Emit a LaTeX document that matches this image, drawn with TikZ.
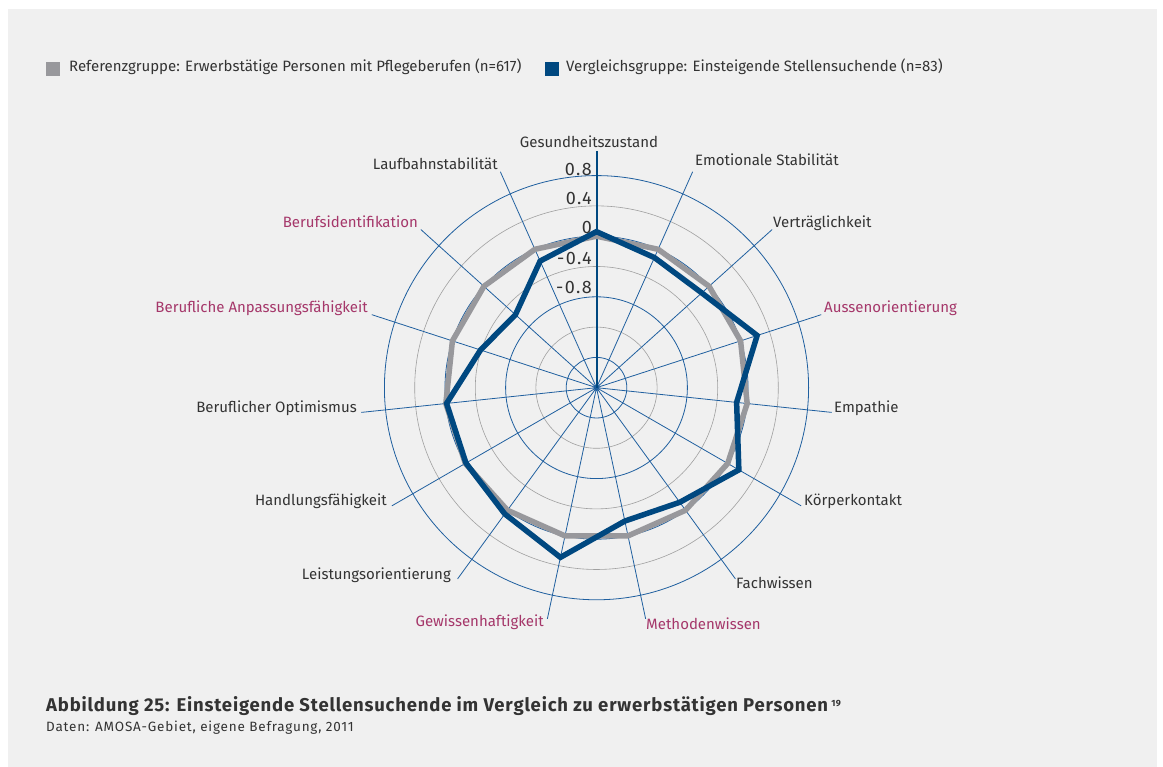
\documentclass[tikz,border=0pt]{standalone}
\usepackage{fontspec}
\setmainfont{Fira Sans}
\definecolor{bggray}{HTML}{F0F0F0}
\definecolor{gridblue}{HTML}{1F5F9F}
\definecolor{gridgray}{HTML}{A0A0A0}
\definecolor{refgray}{HTML}{98989C}
\definecolor{cmpblue}{HTML}{004880}
\definecolor{textdark}{HTML}{333333}
\definecolor{labpink}{HTML}{A5376A}

\begin{document}
\begin{tikzpicture}[x=1pt,y=1pt]
    \tikzstyle{ringblue}=[draw=gridblue,line width=0.8pt]
    \tikzstyle{ringgray}=[draw=gridgray,line width=0.6pt]
    \tikzstyle{axis}=[draw=gridblue,line width=0.8pt]
    \tikzstyle{lab}=[inner sep=0pt,font=\fontsize{15}{17}\selectfont,text=textdark]
    \tikzstyle{labpk}=[lab,text=labpink]
    \tikzstyle{scalelab}=[inner sep=0pt,anchor=base east,text=textdark,
                          font=\fontsize{18}{20}\selectfont\addfontfeature{LetterSpace=8}]
    \tikzstyle{refline}=[draw=refgray,line width=5.5pt]
    \tikzstyle{cmpline}=[draw=cmpblue,line width=5.5pt]
    \tikzstyle{key}=[minimum size=14pt,inner sep=0pt]

    \useasboundingbox (0,0) rectangle (1163,767);
    \fill[bggray] (8,0) rectangle (1157,758);

    % legend
    \node[key,fill=refgray] (kref) at (53,698) {};
    \node[lab,anchor=mid west] (tref) at (69,698) {Referenzgruppe: Erwerbstätige Personen mit Pflegeberufen (n=617)};
    \node[key,fill=cmpblue] (kcmp) at (551.5,698) {};
    \node[lab,anchor=mid west] (tcmp) at (566,698) {Vergleichsgruppe: Einsteigende Stellensuchende (n=83)};

    \begin{scope}[shift={(596.5,379.3)},x=75.75pt,y=75.75pt]
       \coordinate (c) at (0,0);

       % rings, 0.4 apart (radius = value + 2)
       \draw[ringblue] (c) circle (0.4);
       \draw[ringgray] (c) circle (0.8);
       \draw[ringblue] (c) circle (1.2);
       \draw[ringgray] (c) circle (1.6);
       \draw[ringblue] (c) circle (2.0);
       \draw[ringgray] (c) circle (2.4);
       \draw[ringblue] (c) circle (2.8);

       \coordinate (e0)  at (90:3.12);
       \coordinate (e1)  at (66:3.12);
       \coordinate (e2)  at (42:3.12);
       \coordinate (e3)  at (18:3.12);
       \coordinate (e4)  at (-6:3.12);
       \coordinate (e5)  at (-30:3.12);
       \coordinate (e6)  at (-54:3.12);
       \coordinate (e7)  at (-78:3.12);
       \coordinate (e8)  at (-102:3.12);
       \coordinate (e9)  at (-126:3.12);
       \coordinate (e10) at (-150:3.12);
       \coordinate (e11) at (-174:3.12);
       \coordinate (e12) at (162:3.12);
       \coordinate (e13) at (138:3.12);
       \coordinate (e14) at (114:3.12);

       \draw[axis] (c) -- (e1)  (c) -- (e2)  (c) -- (e3)  (c) -- (e4)
                   (c) -- (e5)  (c) -- (e6)  (c) -- (e7)  (c) -- (e8)
                   (c) -- (e9)  (c) -- (e10) (c) -- (e11) (c) -- (e12)
                   (c) -- (e13) (c) -- (e14);
       \draw[cmpblue,line width=2pt] (c) -- (e0);

       % Referenzgruppe
       \draw[refline] (90:2) -- (66:2) -- (42:2) -- (18:2) -- (-6:2)
             -- (-30:2) -- (-54:2) -- (-78:2) -- (-102:2) -- (-126:2)
             -- (-150:2) -- (-174:2) -- (162:2) -- (138:2) -- (114:2) -- cycle;

       % Vergleichsgruppe
       \draw[cmpline] (90:2.06) -- (66:1.88) -- (42:1.87) -- (18:2.23) -- (-6:1.86)
             -- (-30:2.17) -- (-54:1.87) -- (-78:1.80) -- (-102:2.29) -- (-126:2.06)
             -- (-150:1.99) -- (-174:1.99) -- (162:1.61) -- (138:1.44) -- (114:1.83) -- cycle;
    \end{scope}

    \node[scalelab] (s1) at (592,591.5) {0.8};
    \node[scalelab] (s2) at (592,562)   {0.4};
    \node[scalelab] (s3) at (592,533)   {0};
    \node[scalelab] (s4) at (592,502.5) {-0.4};
    \node[scalelab] (s5) at (592,473)   {-0.8};

    \node[lab,anchor=mid]        (l0)  at (589,622)   {Gesundheitszustand};
    \node[lab,anchor=mid west]   (l1)  at (695,604)   {Emotionale Stabilität};
    \node[lab,anchor=mid west]   (l2)  at (773,542)   {Verträglichkeit};
    \node[labpk,anchor=mid west] (l3)  at (824,457)   {Aussenorientierung};
    \node[lab,anchor=mid west]   (l4)  at (834,357)   {Empathie};
    \node[lab,anchor=mid west]   (l5)  at (804,264)   {Körperkontakt};
    \node[lab,anchor=mid west]   (l6)  at (736,181)   {Fachwissen};
    \node[labpk,anchor=mid west] (l7)  at (646,140)   {Methodenwissen};
    \node[labpk,anchor=mid east] (l8)  at (544,143)   {Gewissenhaftigkeit};
    \node[lab,anchor=mid east]   (l9)  at (451,190)   {Leistungsorientierung};
    \node[lab,anchor=mid east]   (l10) at (387,264)   {Handlungsfähigkeit};
    \node[lab,anchor=mid east]   (l11) at (357,357)   {Beruflicher Optimismus};
    \node[labpk,anchor=mid east] (l12) at (368,457)   {Berufliche Anpassungsfähigkeit};
    \node[labpk,anchor=mid east] (l13) at (418,542)   {Berufsidentifikation};
    \node[lab,anchor=mid east]   (l14) at (498,600)   {Laufbahnstabilität};

    % caption
    \node[inner sep=0pt,anchor=base west,text=textdark,
          font=\bfseries\fontsize{18.5}{20}\selectfont\addfontfeature{LetterSpace=4.4}] (cap)
        at (46,55.5) {Abbildung 25: Einsteigende Stellensuchende im Vergleich zu erwerbstätigen Personen\,\raisebox{5pt}{\fontsize{9}{9}\selectfont 19}};
    \node[inner sep=0pt,anchor=base west,text=textdark,
          font=\fontsize{13.5}{15}\selectfont\addfontfeature{LetterSpace=6}] (src)
        at (46,35.5) {Daten: AMOSA-Gebiet, eigene Befragung, 2011};
\end{tikzpicture}
\end{document}
